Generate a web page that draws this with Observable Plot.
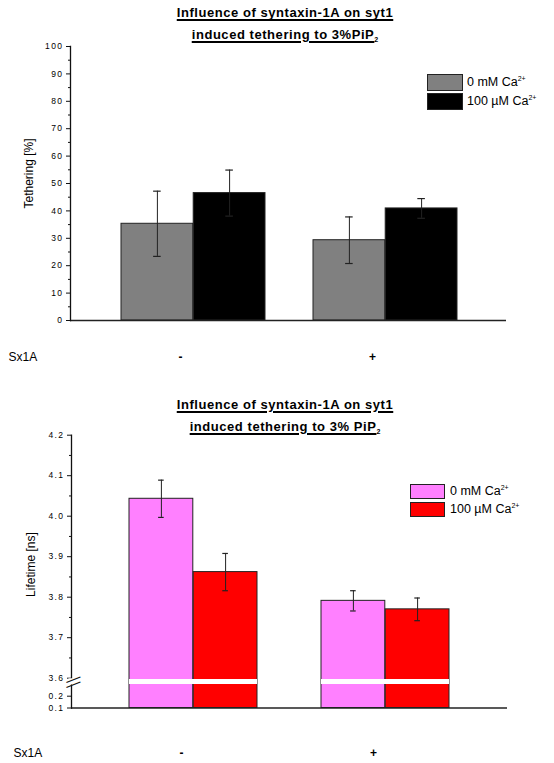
<!DOCTYPE html>
<html><head><meta charset="utf-8">
<script src="https://cdn.jsdelivr.net/npm/d3@7"></script>
<script src="https://cdn.jsdelivr.net/npm/@observablehq/plot@0.6"></script>
<style>
body{margin:0;background:#fff;font-family:"Liberation Sans",Arial,sans-serif;}
#page{position:relative;width:554px;height:763px;overflow:hidden;background:#fff;}
.title{position:absolute;left:0;width:570px;text-align:center;font-weight:bold;font-size:13px;letter-spacing:0.55px;line-height:14px;text-decoration:underline;text-decoration-thickness:1.5px;text-underline-offset:2px;white-space:nowrap;}
.chart{position:absolute;left:0;}
.legrow{position:absolute;white-space:nowrap;font-size:12.5px;color:#000;}
.sw{position:absolute;border:1px solid #222;box-sizing:border-box;}
.legrow sup{font-size:7px;vertical-align:5px;line-height:0;}
g[aria-label="y-axis tick label"] text{letter-spacing:1.4px;}
</style>
</head><body>
<div id="page"></div>
<script>
// ---------- data ----------
const groups = ["-", "+"];
const seriesLabels = ["0 mM Ca", "100 \u00b5M Ca"];
const chargeLabel = "2+";
const tetherColors = ["#808080", "#000000"];
const lifetimeColors = ["#ff80ff", "#ff0000"];

const tetherMean0 = [35.3, 29.3];
const tetherErr0 = [11.9, 8.5];
const tetherMean100 = [46.5, 40.9];
const tetherErr100 = [8.4, 3.6];

const lifetimeMean0 = [4.043, 3.791];
const lifetimeErr0 = [0.046, 0.025];
const lifetimeMean100 = [3.862, 3.770];
const lifetimeErr100 = [0.046, 0.028];

const tetherTicks = [0, 10, 20, 30, 40, 50, 60, 70, 80, 90, 100];
const tetherMinor = [5, 15, 25, 35, 45, 55, 65, 75, 85, 95];
const lifetimeTicks = [0.1, 0.2, 3.6, 3.7, 3.8, 3.9, 4.0, 4.1, 4.2];
const lifetimeMinor = [3.65, 3.75, 3.85, 3.95, 4.05, 4.15];
const lifetimeBreak = 3.0;

const titleLine1 = ["Influence of syntaxin-1A on syt1", "Influence of syntaxin-1A on syt1"];
const titleLine2 = ["induced tethering to 3%PiP", "induced tethering to 3% PiP"];
const groupAxisLabel = "Sx1A";

function rows(m0, e0, m1, e1) {
  return groups.flatMap((g, i) => [
    {group: g, si: 0, mean: m0[i], err: e0[i]},
    {group: g, si: 1, mean: m1[i], err: e1[i]}
  ]);
}

function chart(o) {
  const B = (o.xRange[1] - o.xRange[0]) / (groups.length - o.pad) * (1 - o.pad);
  const marks = [];
  for (const s of [0, 1]) {
    const d = o.data.filter(r => r.si === s);
    const half = {insetLeft: s ? B / 2 : 0, insetRight: s ? 0 : B / 2};
    marks.push(Plot.barY(d, {x: "group", y1: o.yDomain[0], y2: "mean", fill: o.colors[s], stroke: "#222", strokeWidth: 1, ...half}));
    const c = s ? 3 * B / 4 : B / 4;
    const cap = {insetLeft: c - o.capW / 2, insetRight: B - c - o.capW / 2};
    marks.push(Plot.ruleX(d, {x: "group", y1: r => r.mean - r.err, y2: r => r.mean + r.err, dx: s ? B / 4 : -B / 4, stroke: "#222", strokeWidth: 1}));
    marks.push(Plot.tickY(d, {x: "group", y: r => r.mean + r.err, stroke: "#222", strokeWidth: 1.2, ...cap}));
    marks.push(Plot.tickY(d, {x: "group", y: r => r.mean - r.err, stroke: "#222", strokeWidth: 1.2, ...cap}));
  }
  if (o.breakAt != null) {
    marks.push(Plot.tickY(groups, {x: g => g, y: o.breakAt, stroke: "white", strokeWidth: 5}));
  }
  marks.push(Plot.ruleY([o.yDomain[0]], {stroke: "#222", strokeWidth: 1.5}));
  marks.push(Plot.frame({anchor: "left", stroke: "#111", strokeWidth: 1.3}));
  marks.push(Plot.axisY({ticks: o.yTicks, tickSize: 4, tickPadding: 3, fontSize: 8.5, tickFormat: o.fmt, label: null, stroke: "#111"}));
  marks.push(Plot.axisY({ticks: o.yMinor, tickSize: 2, tickFormat: () => "", label: null, stroke: "#111"}));
  if (o.breakAt != null) {
    marks.push(Plot.dot([o.breakAt], {y: d => d, frameAnchor: "left", symbol: "square", r: 3.5, fill: "white"}));
    marks.push(Plot.text(["\u2014"], {y: o.breakAt, frameAnchor: "left", textAnchor: "middle", lineAnchor: "middle", dx: 1.5, dy: -2.5, rotate: -21, fontSize: 15, fill: "#111"}));
    marks.push(Plot.text(["\u2014"], {y: o.breakAt, frameAnchor: "left", textAnchor: "middle", lineAnchor: "middle", dx: 1.5, dy: 2.5, rotate: -21, fontSize: 15, fill: "#111"}));
  }
  marks.push(Plot.axisX({tickSize: 0, tickPadding: o.xPad, fontSize: 12, fontWeight: "bold", dx: o.xDx, label: null}));
  marks.push(Plot.text([groupAxisLabel], {frameAnchor: "bottom-left", textAnchor: "start", lineAnchor: "middle", dx: o.sxDx, dy: o.sxDy, fontSize: 12}));
  marks.push(Plot.text([o.yLabel], {frameAnchor: "left", textAnchor: "middle", lineAnchor: "middle", rotate: -90, dx: o.labelDx, dy: o.labelDy, fontSize: 12}));

  const svg = Plot.plot({
    width: 554, height: o.height,
    marginLeft: o.mL, marginRight: o.mR, marginTop: o.mT, marginBottom: o.mB,
    style: {fontFamily: "'Liberation Sans', Arial, sans-serif", background: "white", overflow: "visible"},
    x: {type: "band", domain: groups, range: o.xRange, paddingInner: o.pad, paddingOuter: 0},
    y: o.yScale,
    marks
  });
  svg.classList.add("chart");
  svg.style.top = o.top + "px";
  return svg;
}

const page = document.getElementById("page");

page.appendChild(chart({
  data: rows(tetherMean0, tetherErr0, tetherMean100, tetherErr100),
  colors: tetherColors,
  yDomain: [0, 100],
  yScale: {domain: [0, 100]},
  yTicks: tetherTicks, yMinor: tetherMinor, fmt: d3.format("d"),
  xRange: [120, 457], pad: 0.25, capW: 8,
  top: 0, height: 380, mL: 70, mR: 48, mT: 46, mB: 60,
  xPad: 32, xDx: -13, sxDx: -62, sxDy: 36.7,
  yLabel: "Tethering [%]", labelDx: -41, labelDy: -10
}));

page.appendChild(chart({
  data: rows(lifetimeMean0, lifetimeErr0, lifetimeMean100, lifetimeErr100),
  colors: lifetimeColors,
  yDomain: [0.1, 4.2],
  yScale: {type: "linear", domain: [0.1, 0.2, 3.6, 4.2], range: [327.5, 315.7, 297.7, 54.7], clamp: true},
  yTicks: lifetimeTicks, yMinor: lifetimeMinor, fmt: d3.format(".1f"), breakAt: lifetimeBreak,
  xRange: [128, 449], pad: 1 / 3, capW: 6,
  top: 380, height: 383, mL: 71, mR: 47, mT: 54.7, mB: 55.5,
  xPad: 40.5, xDx: -12, sxDx: -58, sxDy: 45,
  yLabel: "Lifetime [ns]", labelDx: -40, labelDy: -7
}));

// titles
const titleTops = [[6.3, 27.8], [397.8, 419.8]];
titleTops.forEach((t, i) => {
  const a = document.createElement("div");
  a.className = "title"; a.style.top = t[0] + "px"; a.textContent = titleLine1[i];
  const b = document.createElement("div");
  b.className = "title"; b.style.top = t[1] + "px";
  b.innerHTML = titleLine2[i] + '<span style="font-size:7px;position:relative;top:3px;letter-spacing:0;">2</span>';
  page.appendChild(a); page.appendChild(b);
});

// legends
function legend(colors, x, tops, w, h, textX) {
  seriesLabels.forEach((lab, i) => {
    const sw = document.createElement("div");
    sw.className = "sw";
    Object.assign(sw.style, {left: x + "px", top: tops[i] + "px", width: w + "px", height: h + "px", background: colors[i]});
    page.appendChild(sw);
    const t = document.createElement("div");
    t.className = "legrow";
    Object.assign(t.style, {left: textX + "px", top: tops[i] + "px", lineHeight: h + "px"});
    t.innerHTML = lab + "<sup>" + chargeLabel + "</sup>";
    page.appendChild(t);
  });
}
legend(tetherColors, 427, [74, 93], 36, 17, 467);
legend(lifetimeColors, 410, [484, 502], 35, 15, 450);
</script>
</body></html>
